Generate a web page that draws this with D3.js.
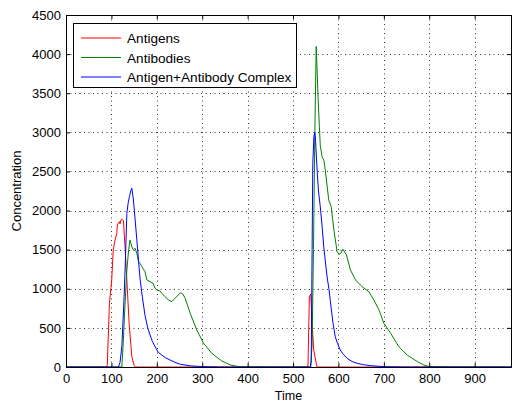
<!DOCTYPE html>
<html>
<head>
<meta charset="utf-8">
<script src="https://d3js.org/d3.v7.min.js"></script>
<style>
  body { margin: 0; background: #fff; }
  svg text { font-family: "Liberation Sans", Arial, sans-serif; }
</style>
</head>
<body>
<script>
// [time, concentration]
const antigens = [
  [0, 0], [90, 0], [91, 30], [95.6, 814], [100.7, 1113], [104, 1496], [108, 1624], [112, 1710],
  [113, 1816], [117.6, 1858], [119, 1830], [121, 1880], [123, 1888], [126.5, 1871], [130, 1538],
  [134, 1113], [139, 559], [145, 132], [150, 22], [153, 0],
  [532, 0], [533, 40], [536, 899], [539, 933], [542, 559], [545.6, 217], [551, 47], [553, 0], [980, 0]
]
const antibodies = [
  [0, 0], [123, 0], [126, 300], [130, 800], [134, 1240], [138, 1500], [141, 1624], [143, 1580],
  [145, 1538], [148.5, 1496], [152, 1518], [156, 1454], [159.6, 1347], [163, 1326], [167, 1283],
  [174, 1219], [178, 1113], [185, 1091], [192, 1070], [196, 1006], [200, 985], [207, 972],
  [211, 942], [218, 900], [225.7, 857], [233, 835], [240, 878], [247, 920], [253, 950], [257, 935],
  [262.5, 878], [273.5, 687], [288, 473], [303, 303], [321, 175], [343, 77], [362, 26], [380, 5],
  [455, 2], [460, 0],
  [539, 0], [542, 300], [545, 1500], [548, 3000], [551, 4096], [553, 3798], [555, 3456],
  [558, 3073], [560, 2830], [564, 2689], [568, 2640], [571, 2519], [578.6, 2135], [584, 2050],
  [590, 1752], [597, 1474], [601, 1440], [605, 1453], [610, 1505], [617.7, 1432], [626.5, 1240],
  [637.6, 1113], [652, 1027], [667, 963], [678, 857], [690, 720], [700, 559], [715, 431],
  [733, 260], [751.5, 153], [774, 68], [788, 26], [800, 5], [855, 2], [860, 0], [980, 0]
]
const complex = [
  [0, 0], [115.5, 0], [119, 60], [123, 260], [128, 899], [131, 1400], [134, 1965], [137, 2100],
  [139.7, 2178], [143, 2260], [145, 2285], [148.5, 2135], [152, 1900], [156, 1624], [163, 1135],
  [168, 900], [174, 660], [180, 500], [185, 410], [190, 330], [196, 260], [203, 190], [211, 153],
  [220, 115], [229, 90], [240, 60], [251.5, 35], [273, 15], [300, 5], [335, 1], [340, 0],
  [538, 0], [540, 80], [542, 1500], [543.5, 2600], [546, 2950], [548, 3000], [549.5, 2900],
  [553, 2519], [556, 2250], [560, 2050], [564, 1800], [567.6, 1538], [575, 1150], [579, 1000],
  [582, 850], [588, 560], [593, 387], [598, 300], [604, 217], [611, 160], [619, 111], [630, 70],
  [641, 47], [655, 30], [670, 17], [700, 5], [735, 1], [740, 0], [980, 0]
]

const xTicks = [0, 100, 200, 300, 400, 500, 600, 700, 800, 900]
const yTicks = [0, 500, 1000, 1500, 2000, 2500, 3000, 3500, 4000, 4500]

const series = [
  { name: 'Antigens', values: antigens, color: '#ff0000' },
  { name: 'Antibodies', values: antibodies, color: '#008000' },
  { name: 'Antigen+Antibody Complex', values: complex, color: '#0000ff' },
]

// plot area
var margin = {top: 15, right: 2, bottom: 34, left: 66},
  width = 513 - margin.left - margin.right,
  height = 401 - margin.top - margin.bottom

var svg = d3.select('body').append('svg')
  .attr('width', 513)
  .attr('height', 401)

var g = svg.append('g')
  .attr('transform', `translate(${margin.left}, ${margin.top})`)

var x = d3.scaleLinear().domain([0, 980]).range([0, width])
var y = d3.scaleLinear().domain([0, 4500]).range([height, 0])

// dotted grid
g.append('g').selectAll('line')
  .data(xTicks.slice(1))
  .enter().append('line')
  .attr('x1', d => Math.round(x(d)) + 0.5).attr('x2', d => Math.round(x(d)) + 0.5)
  .attr('y1', 0).attr('y2', height)
  .attr('stroke', '#000').attr('stroke-width', 0.8).attr('stroke-dasharray', '1,3.5')
g.append('g').selectAll('line')
  .data(yTicks.slice(1, -1))
  .enter().append('line')
  .attr('y1', d => Math.round(y(d)) + 0.5).attr('y2', d => Math.round(y(d)) + 0.5)
  .attr('x1', 0).attr('x2', width)
  .attr('stroke', '#000').attr('stroke-width', 0.8).attr('stroke-dasharray', '1,3.5')

// curves
var line = d3.line().x(d => x(d[0])).y(d => y(d[1]))
g.append('g').selectAll('path')
  .data(series)
  .enter().append('path')
  .attr('d', d => line(d.values))
  .attr('fill', 'none')
  .attr('stroke', d => d.color)
  .attr('stroke-width', 1)

// axes, ticks inward on all four sides
g.append('g')
  .attr('transform', `translate(0, ${height})`)
  .call(d3.axisBottom(x).tickValues(xTicks).tickSize(-4).tickPadding(7).tickFormat(d3.format('d')))
g.append('g')
  .call(d3.axisTop(x).tickValues(xTicks).tickSize(-4).tickFormat(''))
g.append('g')
  .call(d3.axisLeft(y).tickValues(yTicks).tickSize(-4).tickPadding(5).tickFormat(d3.format('d')))
g.append('g')
  .attr('transform', `translate(${width}, 0)`)
  .call(d3.axisRight(y).tickValues(yTicks).tickSize(-4).tickFormat(''))

g.selectAll('.domain').attr('stroke', '#000')
g.selectAll('.tick line').attr('stroke', '#000')
g.selectAll('.tick text')
  .attr('font-size', 13)
  .attr('font-family', '"Liberation Sans", Arial, sans-serif')
  .attr('fill', '#000')

// axis labels
svg.append('text')
  .attr('x', margin.left + width / 2)
  .attr('y', 399.5)
  .attr('text-anchor', 'middle')
  .attr('font-size', 12.5)
  .text('Time')
svg.append('text')
  .attr('transform', `translate(21, ${margin.top + height / 2}) rotate(-90)`)
  .attr('text-anchor', 'middle')
  .attr('font-size', 13)
  .text('Concentration')

// legend
var legend = svg.append('g').attr('transform', 'translate(73, 23)')
legend.append('rect')
  .attr('x', 0.5).attr('y', 0.5)
  .attr('width', 223).attr('height', 64)
  .attr('fill', '#fff').attr('stroke', '#000')
var item = legend.selectAll('g.item')
  .data(series)
  .enter().append('g')
  .attr('class', 'item')
  .attr('transform', (d, i) => `translate(0, ${15 + i * 19.5})`)
item.append('line')
  .attr('x1', 8).attr('x2', 48)
  .attr('stroke', d => d.color)
item.append('text')
  .attr('x', 54).attr('y', 5)
  .attr('font-size', 13.6)
  .text(d => d.name)
</script>
</body>
</html>
